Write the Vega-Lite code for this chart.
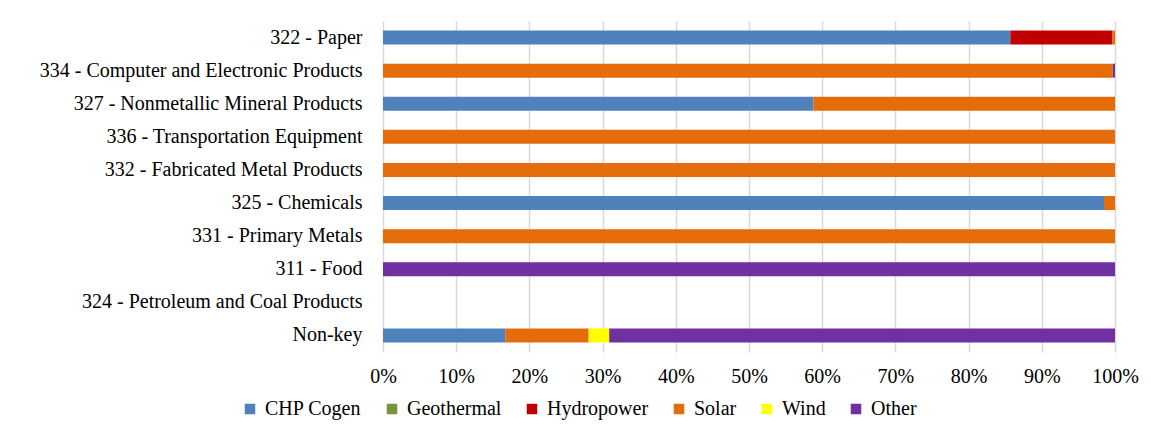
{
  "$schema": "https://vega.github.io/schema/vega-lite/v6.json",
  "autosize": "none",
  "width": 732,
  "height": 331,
  "padding": {"left": 383, "top": 21, "right": 36, "bottom": 82},
  "background": "white",
  "config": {
    "font": "'Liberation Serif', 'Times New Roman', 'DejaVu Serif', serif",
    "view": {"stroke": null}
  },
  "data": {
    "values": [
      {"industry": "322 - Paper", "type": "CHP Cogen", "seq": 1, "share": 0.857},
      {"industry": "322 - Paper", "type": "Hydropower", "seq": 3, "share": 0.139},
      {"industry": "322 - Paper", "type": "Solar", "seq": 4, "share": 0.004},
      {"industry": "334 - Computer and Electronic Products", "type": "Solar", "seq": 4, "share": 0.997},
      {"industry": "334 - Computer and Electronic Products", "type": "Other", "seq": 6, "share": 0.003},
      {"industry": "327 - Nonmetallic Mineral Products", "type": "CHP Cogen", "seq": 1, "share": 0.588},
      {"industry": "327 - Nonmetallic Mineral Products", "type": "Solar", "seq": 4, "share": 0.412},
      {"industry": "336 - Transportation Equipment", "type": "Solar", "seq": 4, "share": 1.0},
      {"industry": "332 - Fabricated Metal Products", "type": "Solar", "seq": 4, "share": 1.0},
      {"industry": "325 - Chemicals", "type": "CHP Cogen", "seq": 1, "share": 0.985},
      {"industry": "325 - Chemicals", "type": "Solar", "seq": 4, "share": 0.015},
      {"industry": "331 - Primary Metals", "type": "Solar", "seq": 4, "share": 1.0},
      {"industry": "311 - Food", "type": "Other", "seq": 6, "share": 1.0},
      {"industry": "324 - Petroleum and Coal Products", "type": "CHP Cogen", "seq": 1, "share": 0},
      {"industry": "Non-key", "type": "CHP Cogen", "seq": 1, "share": 0.167},
      {"industry": "Non-key", "type": "Solar", "seq": 4, "share": 0.114},
      {"industry": "Non-key", "type": "Wind", "seq": 5, "share": 0.028},
      {"industry": "Non-key", "type": "Other", "seq": 6, "share": 0.691}
    ]
  },
  "mark": {"type": "bar", "size": 14},
  "encoding": {
    "y": {
      "field": "industry",
      "type": "nominal",
      "sort": ["322 - Paper", "334 - Computer and Electronic Products", "327 - Nonmetallic Mineral Products", "336 - Transportation Equipment", "332 - Fabricated Metal Products", "325 - Chemicals", "331 - Primary Metals", "311 - Food", "324 - Petroleum and Coal Products", "Non-key"],
      "axis": {
        "title": null,
        "domain": false,
        "ticks": false,
        "labelFontSize": 20,
        "labelColor": "#000000",
        "labelPadding": 21,
        "labelLimit": 400
      }
    },
    "x": {
      "field": "share",
      "type": "quantitative",
      "stack": "zero",
      "scale": {"domain": [0, 1], "nice": false},
      "axis": {
        "title": null,
        "format": ".0%",
        "values": [0, 0.1, 0.2, 0.3, 0.4, 0.5, 0.6, 0.7, 0.8, 0.9, 1.0],
        "labelOverlap": false,
        "domain": false,
        "ticks": false,
        "grid": true,
        "gridColor": "#D9D9D9",
        "gridWidth": 1.5,
        "labelFontSize": 20,
        "labelColor": "#000000",
        "labelPadding": 14,
        "labelFlush": false
      }
    },
    "order": {"field": "seq", "type": "quantitative"},
    "color": {
      "field": "type",
      "type": "nominal",
      "scale": {
        "domain": ["CHP Cogen", "Geothermal", "Hydropower", "Solar", "Wind", "Other"],
        "range": ["#4F81BD", "#77933C", "#C00000", "#E46C0A", "#FFFF00", "#7030A0"]
      },
      "legend": {
        "title": null,
        "orient": "none",
        "direction": "horizontal",
        "legendX": -143,
        "legendY": 378,
        "symbolType": "square",
        "symbolSize": 110,
        "symbolStrokeWidth": 0,
        "labelFontSize": 20,
        "labelColor": "#000000",
        "labelOffset": 5,
        "labelLimit": 300,
        "columnPadding": 20
      }
    }
  }
}
